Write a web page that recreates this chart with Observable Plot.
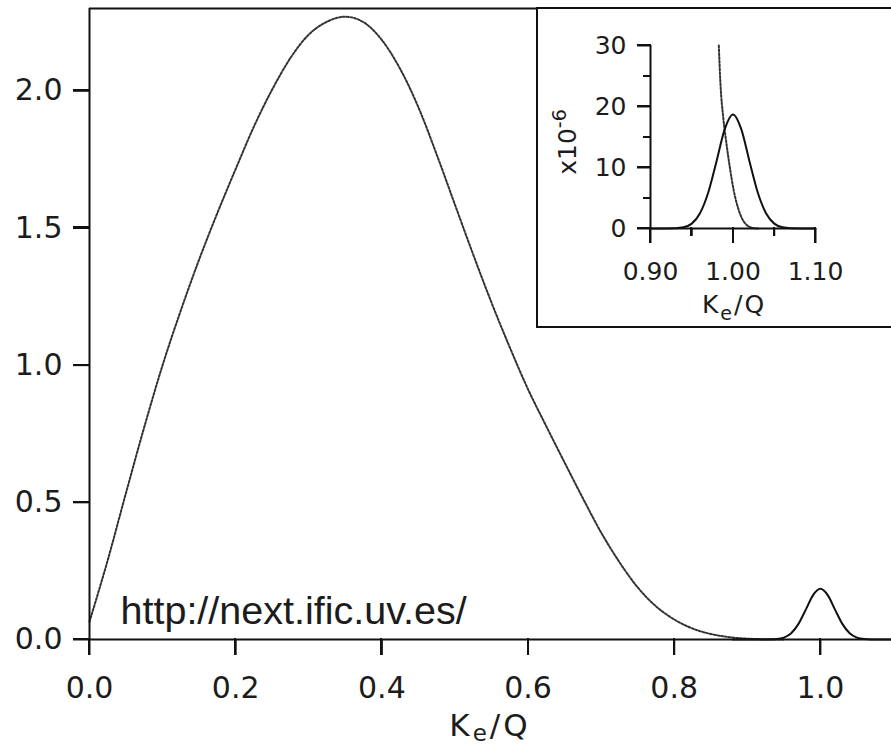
<!DOCTYPE html>
<html><head><meta charset="utf-8">
<script src="https://cdn.jsdelivr.net/npm/d3@7"></script>
<script src="https://cdn.jsdelivr.net/npm/@observablehq/plot@0.6"></script>
<style>
html,body{margin:0;padding:0;background:#fff;overflow:hidden}
#wrap{position:relative;width:891px;height:745px;overflow:hidden;background:#fff}
#main{position:absolute;left:0;top:0}
#inset{position:absolute;left:536px;top:7px;width:360px;height:321px;background:#fff;border:2px solid #111;box-sizing:border-box}
.tk{position:absolute;background:#111;pointer-events:none}
svg text{fill:#1c1c1c}
</style></head><body>
<div id="wrap"><div id="main"></div><div id="inset"></div></div>
<script>
// ---- main panel: two-neutrino spectrum (dotted) ----
const spectrumX = [0, 0.025, 0.05, 0.075, 0.10, 0.125, 0.15, 0.175, 0.20, 0.225, 0.25, 0.275, 0.30, 0.325, 0.35, 0.375, 0.40, 0.425, 0.45, 0.475, 0.50, 0.525, 0.55, 0.575, 0.60, 0.625, 0.65, 0.675, 0.70, 0.725, 0.75, 0.775, 0.80, 0.825, 0.85, 0.875, 0.90, 0.925, 0.95];
const spectrumY = [0.065, 0.29, 0.535, 0.775, 1.0, 1.2, 1.385, 1.555, 1.715, 1.87, 2.005, 2.12, 2.205, 2.252, 2.27, 2.25, 2.185, 2.08, 1.94, 1.768, 1.585, 1.403, 1.228, 1.065, 0.912, 0.777, 0.645, 0.515, 0.39, 0.282, 0.19, 0.121, 0.073, 0.04, 0.02, 0.0085, 0.003, 0.0008, 0];
// ---- main panel: neutrinoless peak (solid) ----
const peakX = [0.88, 0.93, 0.94, 0.95, 0.96, 0.97, 0.98, 0.99, 1.00, 1.01, 1.02, 1.03, 1.04, 1.05, 1.06, 1.07, 1.10];
const peakY = [0, 0.0003, 0.0016, 0.007, 0.023, 0.057, 0.109, 0.162, 0.185, 0.162, 0.109, 0.057, 0.023, 0.007, 0.0016, 0.0003, 0];
// ---- inset (units of 1e-6) ----
const insetPeakX = [0.90, 0.93, 0.94, 0.95, 0.96, 0.97, 0.98, 0.99, 1.00, 1.01, 1.02, 1.03, 1.04, 1.05, 1.06, 1.07, 1.10];
const insetPeakY = [0, 0.05, 0.2, 0.8, 2.5, 5.9, 11.0, 16.3, 18.7, 16.3, 11.0, 5.9, 2.5, 0.8, 0.2, 0.05, 0];
const insetTailX = [0.9828, 0.9848, 0.9881, 0.9921, 0.9961, 1.0008, 1.007, 1.015, 1.025, 1.03];
const insetTailY = [30, 23.7, 18.3, 13.9, 10.1, 6.3, 3.0, 0.8, 0.05, 0];
// ---- ticks and labels ----
const mainXTicks = [0, 0.2, 0.4, 0.6, 0.8, 1.0];
const mainYTicks = [0, 0.5, 1.0, 1.5, 2.0];
const mainXDomain = [0, 1.1];
const mainYDomain = [0, 2.3];
const insetXTicks = [0.90, 1.00, 1.10];
const insetXMinor = [0.95, 1.05];
const insetYTicks = [0, 10, 20, 30];
const insetYMinor = [5, 15, 25];
const insetXDomain = [0.9, 1.1];
const insetYDomain = [0, 30];
const urlLabel = "http://next.ific.uv.es/";
const axisLabelBase = "K", axisLabelSub = "e", axisLabelRest = "/Q";
const insetYLabelBase = "x10", insetYLabelSup = "-6";

const toRows = (xs, ys) => xs.map((x, i) => ({x, y: ys[i]}));
const spectrum = toRows(spectrumX, spectrumY);
const peak = toRows(peakX, peakY);
const insetPeak = toRows(insetPeakX, insetPeakY);
const insetTail = toRows(insetTailX, insetTailY);

const font = "DejaVu Sans, Verdana, sans-serif";
const ink = "#111";
const dotted = {x: "x", y: "y", stroke: "#333", strokeWidth: 2, strokeDasharray: "2,1.8", curve: "monotone-x"};
const sw = {stroke: ink, strokeWidth: 2};

function axesMarks({xDomain, yDomain, xTicks, yTicks, xMinor = [], yMinor = [], major, minor, xPad, yPad, fmtX, fmtY, fontSize, top}) {
  const [x0, x1] = xDomain, [y0, y1] = yDomain;
  return [
    Plot.ruleY([y0], {x1: x0, x2: x1, ...sw}),
    Plot.ruleX([x0], {y1: y0, y2: y1, ...sw}),
    top ? Plot.ruleY([y1], {x1: x0, x2: x1, ...sw}) : null,
    Plot.ruleX(xTicks, {x: d => d, y1: y0, y2: y0, insetBottom: -major[0], ...sw}),
    Plot.ruleX(xMinor, {x: d => d, y1: y0, y2: y0, insetBottom: -minor[0], ...sw}),
    Plot.ruleY(yTicks, {y: d => d, x1: x0, x2: x0, insetLeft: -major[1], ...sw}),
    Plot.ruleY(yMinor, {y: d => d, x1: x0, x2: x0, insetLeft: -minor[1], ...sw}),
    Plot.text(xTicks, {x: d => d, y: y0, text: d3.format(fmtX), dy: major[0] + xPad, lineAnchor: "top", fontSize}),
    Plot.text(yTicks, {x: x0, y: d => d, text: d3.format(fmtY), dx: -(major[1] + yPad), textAnchor: "end", lineAnchor: "middle", fontSize})
  ];
}

// tick overlay in HTML, positioned through the plot's own scales
function tickOverlay(svg, host, {xDomain, yDomain, xTicks, yTicks, xMinor = [], yMinor = [], major, minor}) {
  const sx = svg.scale("x"), sy = svg.scale("y");
  const wrap = document.getElementById("wrap").getBoundingClientRect();
  const b = svg.getBoundingClientRect();
  const ox = b.left - wrap.left, oy = b.top - wrap.top;
  const X0 = Math.round(sx.apply(xDomain[0]) + ox), Y0 = Math.round(sy.apply(yDomain[0]) + oy);
  const add = (l, t, w, h) => {
    const d = document.createElement("div");
    d.className = "tk";
    Object.assign(d.style, {left: l + "px", top: t + "px", width: w + "px", height: h + "px"});
    host.appendChild(d);
  };
  xTicks.forEach(v => add(Math.round(sx.apply(v) + ox) - 1, Y0 - 1, 2, major[0] + 1));
  xMinor.forEach(v => add(Math.round(sx.apply(v) + ox) - 1, Y0 - 1, 2, minor[0] + 1));
  yTicks.forEach(v => add(X0 - major[1], Math.round(sy.apply(v) + oy) - 1, major[1] + 1, 2));
  yMinor.forEach(v => add(X0 - minor[1], Math.round(sy.apply(v) + oy) - 1, minor[1] + 1, 2));
}

const mainAxes = {xDomain: mainXDomain, yDomain: mainYDomain, xTicks: mainXTicks, yTicks: mainYTicks, major: [16, 16], minor: [0, 0]};
const main = Plot.plot({
  width: 891, height: 745, margin: 0,
  x: {domain: mainXDomain, range: [89, 893], axis: null},
  y: {domain: mainYDomain, range: [639, 8], axis: null},
  style: {fontFamily: font, fontSize: "30px", background: "transparent", color: "#1c1c1c"},
  marks: [
    Plot.line(spectrum, dotted),
    Plot.line(peak, {x: "x", y: "y", curve: "monotone-x", ...sw}),
    ...axesMarks({...mainAxes, xPad: 21, yPad: 11, fmtX: ".1f", fmtY: ".1f", fontSize: 30, top: true}),
    Plot.text([urlLabel], {x: mainXDomain[0], y: mainYDomain[0], dx: 31, dy: -16, lineAnchor: "bottom", textAnchor: "start", fontSize: 39.5, fontFamily: "Liberation Sans, Arial, sans-serif", fill: "#111"})
  ]
});
document.getElementById("main").appendChild(main);
{
  const t = d3.select(main).append("text")
    .attr("x", 490).attr("y", 736).attr("text-anchor", "middle")
    .attr("font-family", font).attr("font-size", 31).attr("letter-spacing", "3px").attr("fill", "#1c1c1c");
  t.append("tspan").text(axisLabelBase);
  t.append("tspan").attr("dy", 5).attr("font-size", 23).text(axisLabelSub);
  t.append("tspan").attr("dy", -5).text(axisLabelRest);
}
tickOverlay(main, document.getElementById("wrap"), mainAxes);

const insetAxes = {xDomain: insetXDomain, yDomain: insetYDomain, xTicks: insetXTicks, yTicks: insetYTicks, xMinor: insetXMinor, yMinor: insetYMinor, major: [15, 13], minor: [8, 7]};
const inset = Plot.plot({
  width: 356, height: 317, margin: 0,
  x: {domain: insetXDomain, range: [112, 277], axis: null},
  y: {domain: insetYDomain, range: [219, 36], axis: null},
  style: {fontFamily: font, fontSize: "25px", background: "transparent", color: "#1c1c1c"},
  marks: [
    Plot.line(insetTail, dotted),
    Plot.line(insetPeak, {x: "x", y: "y", curve: "monotone-x", ...sw}),
    ...axesMarks({...insetAxes, xPad: 19, yPad: 11, fmtX: ".2f", fmtY: "d", fontSize: 25, top: false})
  ]
});
document.getElementById("inset").appendChild(inset);
{
  const t = d3.select(inset).append("text")
    .attr("x", 196).attr("y", 304).attr("text-anchor", "middle")
    .attr("font-family", font).attr("font-size", 25).attr("letter-spacing", "2px").attr("fill", "#1c1c1c");
  t.append("tspan").text(axisLabelBase);
  t.append("tspan").attr("dy", 7).attr("font-size", 19).text(axisLabelSub);
  t.append("tspan").attr("dy", -7).text(axisLabelRest);
  const y = d3.select(inset).append("text")
    .attr("transform", "translate(38,133) rotate(-90)").attr("text-anchor", "middle")
    .attr("font-family", font).attr("font-size", 25).attr("fill", "#1c1c1c");
  y.append("tspan").text(insetYLabelBase);
  y.append("tspan").attr("dy", -10).attr("font-size", 19).text(insetYLabelSup);
}
tickOverlay(inset, document.getElementById("wrap"), insetAxes);
</script>
</body></html>
